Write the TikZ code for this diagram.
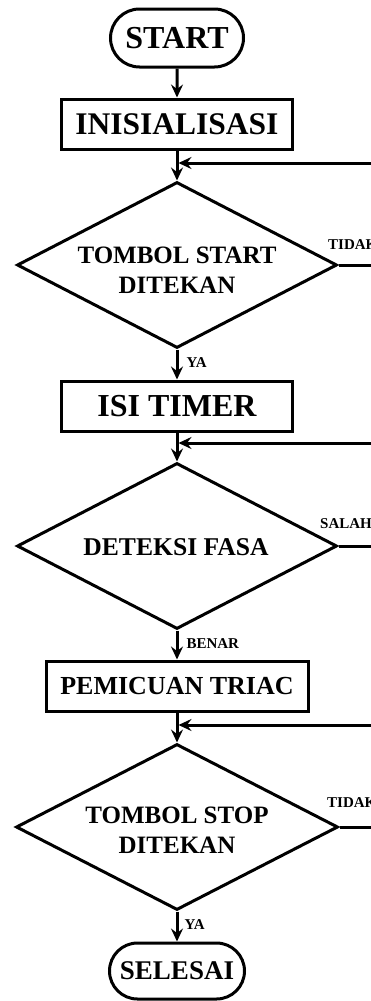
\documentclass[tikz,border=0pt]{standalone}
\usepackage{fontspec}
\setmainfont{Liberation Serif}
\usetikzlibrary{shapes.geometric,shapes.misc,arrows.meta}
\newcommand{\fs}[1]{\fontsize{#1}{#1}\selectfont}
\begin{document}
\begin{tikzpicture}[x=1pt,y=-1pt,
  lw/.style={line width=3pt},
  arr/.style={lw,-{Stealth[length=13pt,width=12pt,inset=4.5pt]}},
  term/.style={draw,lw,rounded rectangle,inner sep=0pt,font=\bfseries\fs{31}},
  proc/.style={draw,lw,rectangle,inner sep=0pt,minimum height=50pt},
  dec/.style={draw,lw,diamond,inner sep=0pt,minimum width=320pt,minimum height=166pt},
  dtext/.style={align=center,inner sep=0pt},
  lbl/.style={font=\bfseries\fs{15},inner sep=0pt,anchor=west}
]
\useasboundingbox (0,0) rectangle (371,1001);
\clip (0,0) rectangle (371,1001);

\node[term,minimum width=133pt,minimum height=58pt] (start) at (177,38) {\fs{32}START};
\node[proc,minimum width=231pt,font=\bfseries\fs{31.5}] (init) at (177,124) {INISIALISASI};
\node[dec] (d1) at (177,265) {};
\node[dtext,font=\bfseries\fs{25}] (t1) at (177,270) {TOMBOL START\\[5pt]DITEKAN};
\node[proc,minimum width=231pt,font=\bfseries\fs{32}] (timer) at (177,406) {ISI TIMER};
\node[dec] (d2) at (177,546) {};
\node[dtext,font=\bfseries\fs{25.6}] (t2) at (176,547) {DETEKSI FASA};
\node[proc,minimum width=262pt,font=\bfseries\fs{26}] (triac) at (177,686) {PEMICUAN TRIAC};
\node[dec,minimum width=322pt] (d3) at (177,827) {};
\node[dtext,font=\bfseries\fs{25}] (t3) at (177,830) {TOMBOL STOP\\[5pt]DITEKAN};
\node[term,minimum width=135pt,minimum height=56pt] (stop) at (177,971) {\fs{27}SELESAI};

\coordinate (j1) at (178.5,163);
\coordinate (r1) at (372,163);
\coordinate (j2) at (178.5,443);
\coordinate (r2) at (372,443);
\coordinate (j3) at (178.5,725);
\coordinate (r3) at (372,725);

\draw[arr] (start) -- (init);
\draw[arr] (init) -- (d1.north);
\draw[arr] (d1.south) -- (timer.north) node[lbl,pos=0.45,xshift=8pt] (ya1) {YA};
\draw[arr] (timer) -- (d2.north);
\draw[arr] (d2.south) -- (triac.north) node[lbl,pos=0.45,xshift=8pt] (benar) {BENAR};
\draw[arr] (triac) -- (d3.north);
\draw[arr] (d3.south) -- (stop.north) node[lbl,pos=0.45,xshift=6pt] (ya2) {YA};

\draw[arr] (d1.east) -- (d1.east -| r1) -- (r1) -- (j1);
\draw[arr] (d2.east) -- (d2.east -| r2) -- (r2) -- (j2);
\draw[arr] (d3.east) -- (d3.east -| r3) -- (r3) -- (j3);

\node[lbl] (tidak1) at (328,245) {TIDAK};
\node[lbl] (salah) at (320,524) {SALAH};
\node[lbl] (tidak2) at (327,803) {TIDAK};
\end{tikzpicture}
\end{document}
